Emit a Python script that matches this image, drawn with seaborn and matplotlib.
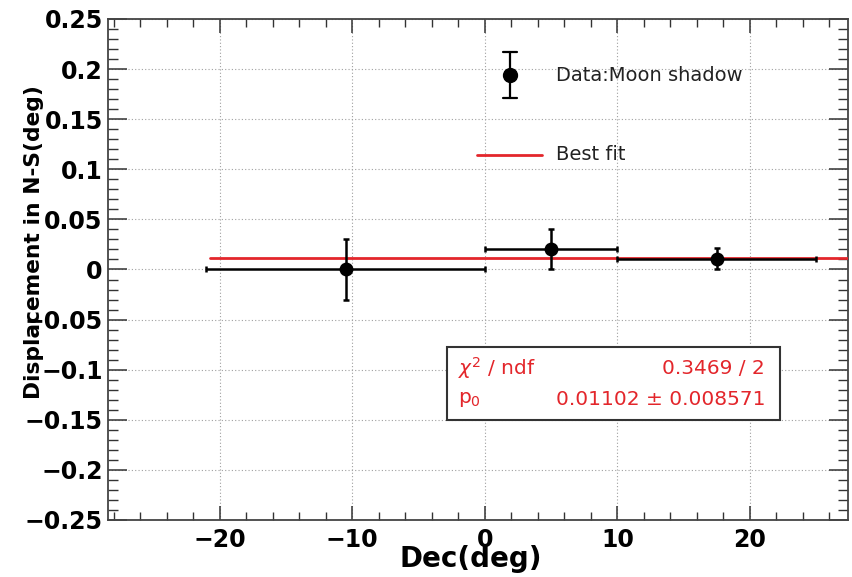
import numpy as np
import pandas as pd
import matplotlib
matplotlib.use("Agg")
import matplotlib.pyplot as plt
import matplotlib.patches as mpatches
from matplotlib.ticker import MultipleLocator, FuncFormatter
import seaborn as sns

# data: moon shadow displacement in N-S per declination bin
dec_center = [-10.5, 5.0, 17.5]
dec_halfwidth = [10.5, 5.0, 7.5]
disp_ns = [0.0, 0.02, 0.0105]
disp_err = [0.03, 0.02, 0.0105]

# constant fit (pol0)
fit_p0 = 0.01102
fit_p0_err = 0.008571
fit_chi2 = 0.3469
fit_ndf = 2
fit_range = [-20.7, 27.4]

x_limits = [-28.4, 27.4]
y_limits = [-0.25, 0.25]

red = "#e3262b"

sns.set_style("white")
plt.rcParams['font.family'] = ['DejaVu Sans']
plt.rcParams['axes.unicode_minus'] = True
plt.rcParams['text.color'] = 'black'
plt.rcParams['axes.labelcolor'] = 'black'
plt.rcParams['xtick.labelcolor'] = 'black'
plt.rcParams['ytick.labelcolor'] = 'black'


def fmt_tick(v, pos):
    s = "%g" % round(v, 4)
    if s == "-0":
        s = "0"
    return s.replace("-", "\u2212")


def main():
    df = pd.DataFrame({"dec": dec_center, "disp": disp_ns,
                       "xerr": dec_halfwidth, "yerr": disp_err})

    fig = plt.figure(figsize=(8.52, 5.77), dpi=100)
    ax = fig.add_axes([0.1271, 0.0988, 0.8682, 0.8683])

    # fit line
    fit_df = pd.DataFrame({"dec": fit_range, "disp": [fit_p0, fit_p0]})
    sns.lineplot(data=fit_df, x="dec", y="disp", ax=ax, color=red, lw=2.0, zorder=3)

    # data points with error bars
    ax.errorbar(df["dec"], df["disp"], xerr=df["xerr"], yerr=df["yerr"],
                fmt="none", ecolor="black", elinewidth=1.8, capsize=2.5,
                capthick=1.8, zorder=4)
    sns.scatterplot(data=df, x="dec", y="disp", ax=ax, color="black", s=100,
                    edgecolor="black", linewidth=0, zorder=5)

    ax.set_xlim(x_limits)
    ax.set_ylim(y_limits)

    # ROOT-like axes
    ax.xaxis.set_major_locator(MultipleLocator(10))
    ax.xaxis.set_minor_locator(MultipleLocator(2))
    ax.yaxis.set_major_locator(MultipleLocator(0.05))
    ax.yaxis.set_minor_locator(MultipleLocator(0.01))
    ax.xaxis.set_major_formatter(FuncFormatter(fmt_tick))
    ax.yaxis.set_major_formatter(FuncFormatter(fmt_tick))

    ax.tick_params(axis="x", which="major", direction="in", length=10, width=1.1,
                   color="#333333", top=True, bottom=True, labelsize=17, pad=6)
    ax.tick_params(axis="x", which="minor", direction="in", length=5.5, width=1.0,
                   color="#333333", top=True, bottom=True)
    ax.tick_params(axis="y", which="major", direction="in", length=14, width=1.1,
                   color="#333333", left=True, right=True, labelsize=17, pad=4)
    ax.tick_params(axis="y", which="minor", direction="in", length=7, width=1.0,
                   color="#333333", left=True, right=True)
    for lab in ax.get_xticklabels() + ax.get_yticklabels():
        lab.set_fontweight("bold")

    for sp in ax.spines.values():
        sp.set_color("#444444")
        sp.set_linewidth(1.3)

    ax.grid(True, which="major", linestyle=(0, (1, 2)), color="#a0a0a0", lw=0.8)
    ax.set_axisbelow(True)

    ax.set_xlabel("Dec(deg)", fontsize=20, fontweight="bold")
    ax.set_ylabel("Displacement in N-S(deg)", fontsize=15.7, fontweight="bold")
    ax.xaxis.set_label_coords(0.49, -0.05)
    ax.yaxis.set_label_coords(-0.087, 0.555)

    # legend (no frame, drawn by hand like ROOT TLegend)
    tr = ax.transAxes
    ax.plot([0.543, 0.543], [0.842, 0.934], color="black", lw=1.6, transform=tr, zorder=6)
    ax.plot([0.534, 0.552], [0.842, 0.842], color="black", lw=1.6, transform=tr, zorder=6)
    ax.plot([0.534, 0.552], [0.934, 0.934], color="black", lw=1.6, transform=tr, zorder=6)
    ax.plot([0.543], [0.888], marker="o", ms=10, color="black", transform=tr, zorder=7)
    ax.text(0.605, 0.888, "Data:Moon shadow", fontsize=14, va="center", ha="left",
            color="#222222", transform=tr)
    ax.plot([0.498, 0.586], [0.729, 0.729], color=red, lw=2.0, transform=tr)
    ax.text(0.605, 0.729, "Best fit", fontsize=14, va="center", ha="left",
            color="#222222", transform=tr)

    # fit stat box
    box = mpatches.Rectangle((0.458, 0.200), 0.450, 0.145, transform=tr,
                             facecolor="white", edgecolor="#333333", lw=1.5, zorder=8)
    ax.add_patch(box)
    ax.text(0.473, 0.303, r"$\chi^2$ / ndf", fontsize=14.5, color=red, va="center",
            ha="left", transform=tr, zorder=9)
    ax.text(0.888, 0.303, "%.4f / %d" % (fit_chi2, fit_ndf), fontsize=14.5, color=red,
            va="center", ha="right", transform=tr, zorder=9)
    ax.text(0.473, 0.240, r"p$_0$", fontsize=14.5, color=red, va="center",
            ha="left", transform=tr, zorder=9)
    ax.text(0.888, 0.240, "%.5f \u00b1 %.6f" % (fit_p0, fit_p0_err), fontsize=14.5,
            color=red, va="center", ha="right", transform=tr, zorder=9)

    fig.savefig("out.png", dpi=100)


if __name__ == "__main__":
    main()
